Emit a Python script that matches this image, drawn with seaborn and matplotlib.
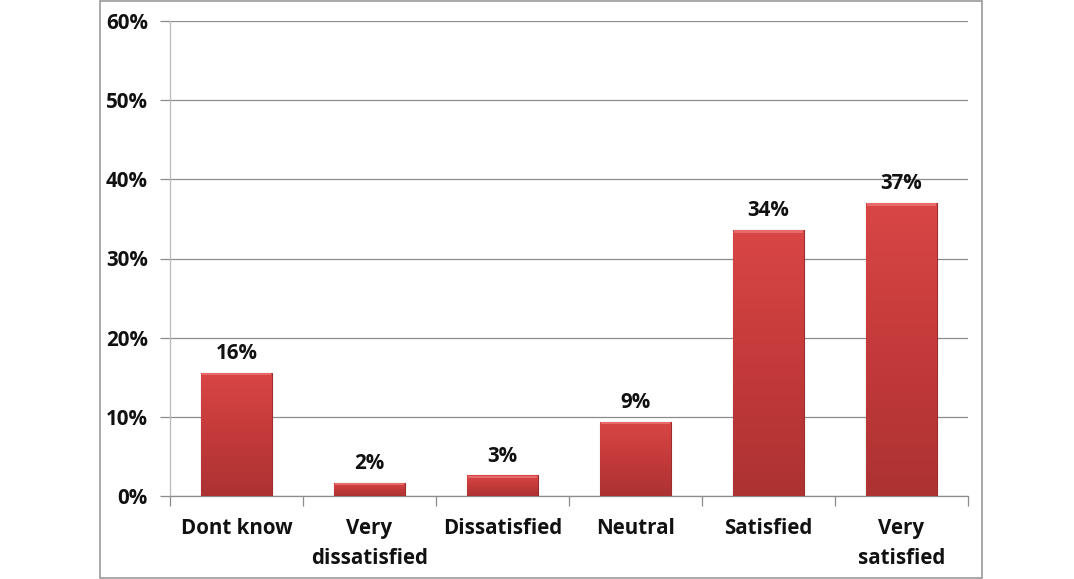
import numpy as np
import pandas as pd
import matplotlib
matplotlib.use("Agg")
import matplotlib.pyplot as plt
import seaborn as sns
from matplotlib.colors import LinearSegmentedColormap
from matplotlib.patches import Rectangle

categories = ["Dont know", "Very\ndissatisfied", "Dissatisfied", "Neutral",
              "Satisfied", "Very\nsatisfied"]
shares = [15.6, 1.7, 2.6, 9.4, 33.6, 37.0]
y_ticks = [0, 10, 20, 30, 40, 50, 60]

df = pd.DataFrame({"category": categories, "share": shares})

sns.set_theme(style="white")
plt.rcParams["font.family"] = ["Open Sans", "DejaVu Sans"]
plt.rcParams["font.weight"] = "bold"

FS = 14.8

fig = plt.figure(figsize=(10.74, 5.79), dpi=100)
ax = fig.add_axes([170 / 1074, 1 - 496 / 579, 798 / 1074, 475 / 579])

sns.barplot(data=df, x="category", y="share", color="#c83c3c", width=0.53,
            ax=ax, zorder=3, saturation=1)

# vertical red gradient on each bar
grad_cmap = LinearSegmentedColormap.from_list("bar", ["#ad3232", "#c43a3a", "#d94646"])
grad = np.linspace(0, 1, 256).reshape(-1, 1)
for p in ax.patches:
    x0, y0 = p.get_x(), p.get_y()
    w, h = p.get_width(), p.get_height()
    im = ax.imshow(grad, cmap=grad_cmap, origin="lower", aspect="auto",
                   extent=[x0, x0 + w, y0, y0 + h], zorder=4)
    im.set_clip_path(p)
    p.set_edgecolor("#9e2c2c")
    p.set_linewidth(0.8)
    # light bevel along the top edge
    ax.add_patch(Rectangle((x0 + w * 0.01, y0 + h - 0.35), w * 0.98, 0.3,
                           facecolor="#e86a6a", edgecolor="none", zorder=5))

for i, v in enumerate(shares):
    ax.text(i, v + 1.1, f"{v:.0f}%", ha="center", va="bottom",
            fontsize=FS, fontweight="bold", color="#111111", zorder=6)

ax.set_xlim(-0.5, len(categories) - 0.5)
ax.set_ylim(0, 60)
ax.set_yticks(y_ticks)
ax.set_yticklabels([f"{t}%" for t in y_ticks], fontsize=FS, fontweight="bold",
                   color="#111111")
ax.yaxis.grid(True, color="#8c8c8c", linewidth=0.9, zorder=0)
ax.set_axisbelow(True)

# category boundaries as tick marks, names centred between them
ax.set_xticks(np.arange(-0.5, len(categories), 1.0))
ax.set_xticklabels([])
ax.set_xticks(np.arange(len(categories)), minor=True)
ax.set_xticklabels(categories, minor=True, fontsize=FS, fontweight="bold",
                   color="#111111", linespacing=1.55)
ax.tick_params(axis="x", which="major", direction="out", length=7,
               width=0.9, color="#8c8c8c", bottom=True)
ax.tick_params(axis="x", which="minor", length=0, pad=16)
ax.tick_params(axis="y", direction="out", length=7, width=0.9,
               color="#8c8c8c", left=True, pad=9)

ax.set_xlabel("")
ax.set_ylabel("")
for side in ["top", "right"]:
    ax.spines[side].set_visible(False)
ax.spines["left"].set_color("#bdbdbd")
ax.spines["bottom"].set_color("#8c8c8c")
ax.spines["left"].set_linewidth(1.0)
ax.spines["bottom"].set_linewidth(0.9)

# outer chart frame
fig.patches.append(Rectangle((100 / 1074, 1 / 579), 882 / 1074, 577 / 579,
                             transform=fig.transFigure, fill=False,
                             edgecolor="#9a9a9a", linewidth=1.2))

fig.savefig("out.png", dpi=100)
